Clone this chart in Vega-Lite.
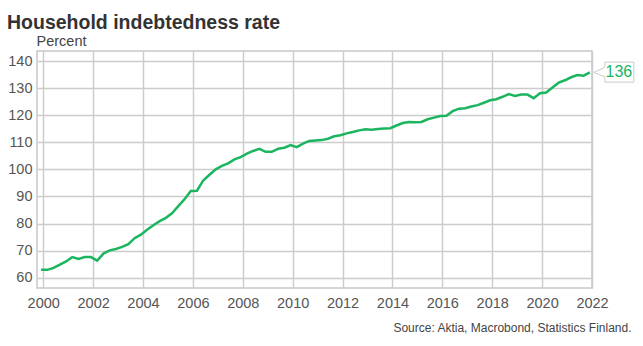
{
  "$schema": "https://vega.github.io/schema/vega-lite/v6.json",
  "width": 555,
  "height": 237,
  "autosize": {"type": "none"},
  "padding": {"left": 37, "top": 51, "right": 51, "bottom": 58},
  "background": "white",
  "title": {
    "text": "Household indebtedness rate",
    "anchor": "start",
    "frame": "group",
    "dx": -30,
    "dy": 22,
    "offset": 7,
    "fontSize": 19.5,
    "fontWeight": "bold",
    "font": "Liberation Sans",
    "color": "#333333",
    "baseline": "alphabetic"
  },
  "config": {
    "font": "Liberation Sans",
    "view": {"stroke": "#c8c8c8", "strokeWidth": 1.5}
  },
  "data": {
    "values": [
      {"date": "1999-12-01", "value": 62.9},
      {"date": "2000-03-01", "value": 62.9},
      {"date": "2000-06-01", "value": 63.6},
      {"date": "2000-09-01", "value": 64.8},
      {"date": "2000-12-01", "value": 66.0},
      {"date": "2001-03-01", "value": 67.6},
      {"date": "2001-06-01", "value": 66.9},
      {"date": "2001-09-01", "value": 67.6},
      {"date": "2001-12-01", "value": 67.6},
      {"date": "2002-03-01", "value": 66.3},
      {"date": "2002-06-01", "value": 68.9},
      {"date": "2002-09-01", "value": 70.1},
      {"date": "2002-12-01", "value": 70.6},
      {"date": "2003-03-01", "value": 71.4},
      {"date": "2003-06-01", "value": 72.4},
      {"date": "2003-09-01", "value": 74.6},
      {"date": "2003-12-01", "value": 75.9},
      {"date": "2004-03-01", "value": 77.7},
      {"date": "2004-06-01", "value": 79.4},
      {"date": "2004-09-01", "value": 80.9},
      {"date": "2004-12-01", "value": 82.1},
      {"date": "2005-03-01", "value": 83.8},
      {"date": "2005-06-01", "value": 86.4},
      {"date": "2005-09-01", "value": 89.0},
      {"date": "2005-12-01", "value": 92.0},
      {"date": "2006-03-01", "value": 92.1},
      {"date": "2006-06-01", "value": 95.9},
      {"date": "2006-09-01", "value": 98.0},
      {"date": "2006-12-01", "value": 100.0},
      {"date": "2007-03-01", "value": 101.3},
      {"date": "2007-06-01", "value": 102.2},
      {"date": "2007-09-01", "value": 103.7},
      {"date": "2007-12-01", "value": 104.5},
      {"date": "2008-03-01", "value": 105.8},
      {"date": "2008-06-01", "value": 106.8},
      {"date": "2008-09-01", "value": 107.6},
      {"date": "2008-12-01", "value": 106.5},
      {"date": "2009-03-01", "value": 106.5},
      {"date": "2009-06-01", "value": 107.6},
      {"date": "2009-09-01", "value": 108.0},
      {"date": "2009-12-01", "value": 109.0},
      {"date": "2010-03-01", "value": 108.2},
      {"date": "2010-06-01", "value": 109.5},
      {"date": "2010-09-01", "value": 110.5},
      {"date": "2010-12-01", "value": 110.7},
      {"date": "2011-03-01", "value": 110.8},
      {"date": "2011-06-01", "value": 111.3},
      {"date": "2011-09-01", "value": 112.2},
      {"date": "2011-12-01", "value": 112.6},
      {"date": "2012-03-01", "value": 113.3},
      {"date": "2012-06-01", "value": 113.8},
      {"date": "2012-09-01", "value": 114.4},
      {"date": "2012-12-01", "value": 114.8},
      {"date": "2013-03-01", "value": 114.6},
      {"date": "2013-06-01", "value": 114.9},
      {"date": "2013-09-01", "value": 115.1},
      {"date": "2013-12-01", "value": 115.2},
      {"date": "2014-03-01", "value": 116.2},
      {"date": "2014-06-01", "value": 117.1},
      {"date": "2014-09-01", "value": 117.5},
      {"date": "2014-12-01", "value": 117.4},
      {"date": "2015-03-01", "value": 117.5},
      {"date": "2015-06-01", "value": 118.5},
      {"date": "2015-09-01", "value": 119.1},
      {"date": "2015-12-01", "value": 119.7},
      {"date": "2016-03-01", "value": 119.8},
      {"date": "2016-06-01", "value": 121.5},
      {"date": "2016-09-01", "value": 122.4},
      {"date": "2016-12-01", "value": 122.6},
      {"date": "2017-03-01", "value": 123.2},
      {"date": "2017-06-01", "value": 123.7},
      {"date": "2017-09-01", "value": 124.6},
      {"date": "2017-12-01", "value": 125.5},
      {"date": "2018-03-01", "value": 125.9},
      {"date": "2018-06-01", "value": 126.8},
      {"date": "2018-09-01", "value": 127.8},
      {"date": "2018-12-01", "value": 127.1},
      {"date": "2019-03-01", "value": 127.6},
      {"date": "2019-06-01", "value": 127.6},
      {"date": "2019-09-01", "value": 126.3},
      {"date": "2019-12-01", "value": 128.1},
      {"date": "2020-03-01", "value": 128.4},
      {"date": "2020-06-01", "value": 130.2},
      {"date": "2020-09-01", "value": 132.0},
      {"date": "2020-12-01", "value": 132.9},
      {"date": "2021-03-01", "value": 134.0},
      {"date": "2021-06-01", "value": 134.8},
      {"date": "2021-09-01", "value": 134.6},
      {"date": "2021-12-01", "value": 135.8}
    ]
  },
  "encoding": {
    "x": {
      "field": "date",
      "type": "temporal",
      "scale": {"domain": [{"year": 1999, "month": 10, "date": 2}, {"year": 2022, "month": 1, "date": 1}]},
      "axis": {
        "values": [{"year": 2000}, {"year": 2002}, {"year": 2004}, {"year": 2006}, {"year": 2008}, {"year": 2010}, {"year": 2012}, {"year": 2014}, {"year": 2016}, {"year": 2018}, {"year": 2020}, {"year": 2022}],
        "format": "%Y",
        "ticks": false,
        "domain": false,
        "grid": true,
        "gridColor": "#cccccc",
        "gridWidth": 1.5,
        "labelPadding": 8,
        "labelFontSize": 14.5,
        "labelColor": "#555555",
        "labelFlush": false,
        "labelOverlap": false,
        "title": "Source: Aktia, Macrobond, Statistics Finland.",
        "titleX": 594,
        "titleY": 43,
        "titleAlign": "right",
        "titleBaseline": "alphabetic",
        "titleFontSize": 12,
        "titleFontWeight": "normal",
        "titleColor": "#444444"
      }
    },
    "y": {
      "field": "value",
      "type": "quantitative",
      "scale": {"domain": [56.2, 143.7], "nice": false, "zero": false},
      "axis": {
        "values": [60, 70, 80, 90, 100, 110, 120, 130, 140],
        "ticks": false,
        "domain": false,
        "grid": true,
        "gridColor": "#cccccc",
        "gridWidth": 1.5,
        "labelPadding": 5,
        "labelFontSize": 14.5,
        "labelColor": "#555555",
        "labelOverlap": false,
        "labelFlush": false,
        "title": "Percent",
        "titleAngle": 0,
        "titleAlign": "left",
        "titleBaseline": "alphabetic",
        "titleX": -1,
        "titleY": -6,
        "titleFontSize": 14.5,
        "titleFontWeight": "normal",
        "titleColor": "#444444"
      }
    }
  },
  "layer": [
    {
      "mark": {"type": "line", "color": "#1cb55f", "strokeWidth": 2.5}
    },
    {
      "transform": [{"filter": "datum.value === 135.8"}],
      "mark": {
        "type": "point",
        "shape": "M0.4,0L1.5,-0.5L1.5,-1.03L4.4,-1.03L4.4,0.97L1.5,0.97L1.5,0.45Z",
        "size": 400,
        "filled": true,
        "fill": "white",
        "stroke": "#cccccc",
        "strokeWidth": 1,
        "opacity": 1
      }
    },
    {
      "transform": [{"filter": "datum.value === 135.8"}],
      "mark": {"type": "text", "dx": 29, "dy": 0, "align": "center", "baseline": "middle", "fontSize": 16, "color": "#1cb55f"},
      "encoding": {
        "text": {"field": "value", "type": "quantitative", "format": ".0f"}
      }
    }
  ]
}
